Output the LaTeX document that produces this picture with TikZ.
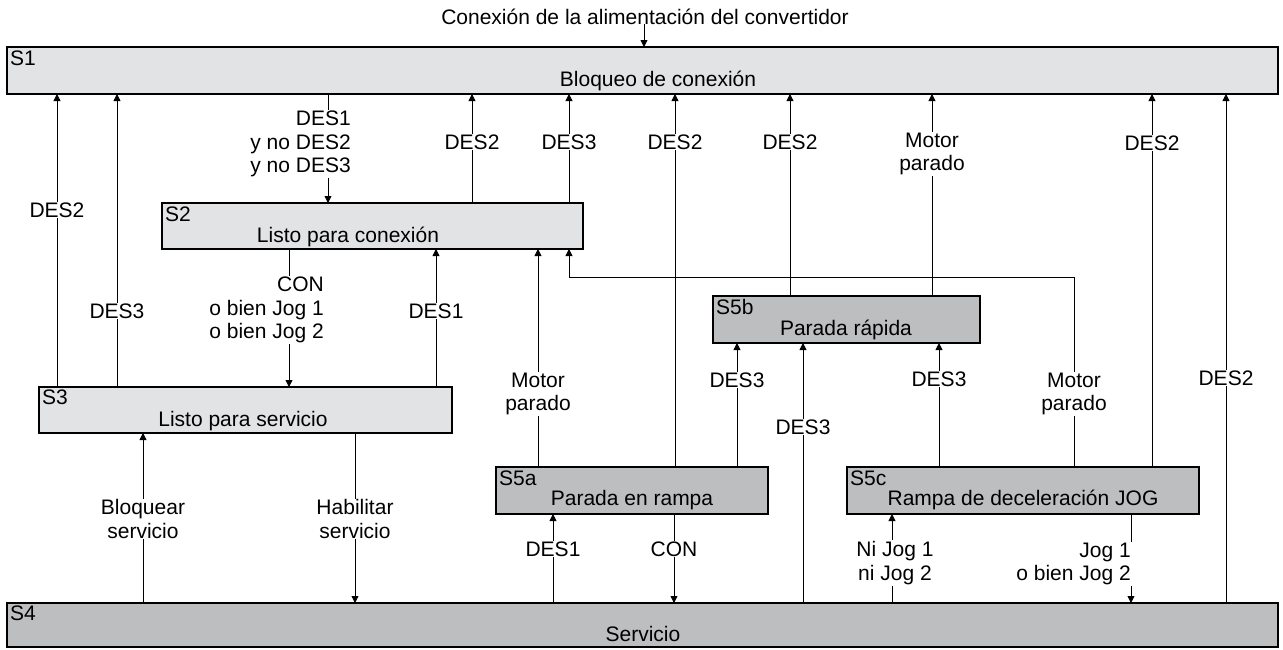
\documentclass[tikz,border=0pt]{standalone}
\usepackage{fontspec}
\setmainfont{Liberation Sans}
\usetikzlibrary{arrows.meta}
\definecolor{lightbox}{HTML}{E2E3E5}
\definecolor{darkbox}{HTML}{BCBEC0}
\tikzset{
  every node/.style={font=\fontsize{21}{23.5}\selectfont},
  statebox/.style={draw=black, line width=1.8pt, rectangle, inner sep=0pt, outer sep=0pt, anchor=north west},
  light/.style={statebox, fill=lightbox},
  dark/.style={statebox, fill=darkbox},
  tag/.style={anchor=base west, inner sep=0pt},
  title/.style={anchor=base, inner sep=0pt},
  conn/.style={line width=0.8pt, draw=black, -{Triangle[length=7pt,width=7pt]}},
  lbl/.style={fill=white, inner sep=1pt, align=center},
  lblr/.style={fill=white, inner sep=1pt, align=right, anchor=east},
}
\begin{document}
\begin{tikzpicture}[x=1pt,y=-1pt]
\useasboundingbox (0,0) rectangle (1283,649);
% boxes
\node[light, minimum width=1271pt, minimum height=47pt] (S1) at (7,47) {};
\node[light, minimum width=421pt, minimum height=46pt] (S2) at (162,203) {};
\node[light, minimum width=413pt, minimum height=46pt] (S3) at (39,387) {};
\node[dark, minimum width=1271pt, minimum height=44pt] (S4) at (7,603) {};
\node[dark, minimum width=272pt, minimum height=47pt] (S5a) at (496,467) {};
\node[dark, minimum width=267pt, minimum height=47pt] (S5b) at (713,296) {};
\node[dark, minimum width=352pt, minimum height=47pt] (S5c) at (847,467) {};
% box texts
\node[tag] (tS1) at (10,65) {S1};
\node[title] (mS1) at (658,86) {Bloqueo de conexión};
\node[tag] (tS2) at (165,221) {S2};
\node[title] (mS2) at (348,242) {Listo para conexión};
\node[tag] (tS3) at (42,404) {S3};
\node[title] (mS3) at (243,426) {Listo para servicio};
\node[tag] (tS4) at (10,620) {S4};
\node[title] (mS4) at (643,641) {Servicio};
\node[tag] (tS5a) at (499,485) {S5a};
\node[title] (mS5a) at (632,505) {Parada en rampa};
\node[tag] (tS5b) at (716,314) {S5b};
\node[title] (mS5b) at (846,335) {Parada rápida};
\node[tag] (tS5c) at (850,485) {S5c};
\node[title] (mS5c) at (1023,505) {Rampa de deceleración JOG};
% top
\node[title] (top) at (645,24) {Conexión de la alimentación del convertidor};
\draw[conn] (top.south -| 644,0) -- (S1.north -| 644,0);
% connectors
\draw[conn] (S3.north -| 57,0) -- (S1.south -| 57,0);
\draw[conn] (S3.north -| 117,0) -- (S1.south -| 117,0);
\draw[conn] (S1.south -| 328,0) -- (S2.north -| 328,0);
\draw[conn] (S2.north -| 472,0) -- (S1.south -| 472,0);
\draw[conn] (S2.north -| 569,0) -- (S1.south -| 569,0);
\draw[conn] (S2.south -| 289,0) -- (S3.north -| 289,0);
\draw[conn] (S3.north -| 436,0) -- (S2.south -| 436,0);
\draw[conn] (S5a.north -| 538,0) -- (S2.south -| 538,0);
\draw[conn] (S5c.north -| 1074,0) |- (569,277) -- (S2.south -| 569,0);
\draw[conn] (S5a.north -| 675,0) -- (S1.south -| 675,0);
\draw[conn] (S5a.north -| 737,0) -- (S5b.south -| 737,0);
\draw[conn] (S5b.north -| 790,0) -- (S1.south -| 790,0);
\draw[conn] (S5b.north -| 932,0) -- (S1.south -| 932,0);
\draw[conn] (S4.north -| 803,0) -- (S5b.south -| 803,0);
\draw[conn] (S5c.north -| 939,0) -- (S5b.south -| 939,0);
\draw[conn] (S5c.north -| 1152,0) -- (S1.south -| 1152,0);
\draw[conn] (S4.north -| 1226,0) -- (S1.south -| 1226,0);
\draw[conn] (S4.north -| 143,0) -- (S3.south -| 143,0);
\draw[conn] (S3.south -| 355,0) -- (S4.north -| 355,0);
\draw[conn] (S4.north -| 553,0) -- (S5a.south -| 553,0);
\draw[conn] (S5a.south -| 674,0) -- (S4.north -| 674,0);
\draw[conn] (S4.north -| 892,0) -- (S5c.south -| 892,0);
\draw[conn] (S5c.south -| 1131,0) -- (S4.north -| 1131,0);
% labels
\node[lbl] (l1) at (57,210) {DES2};
\node[lbl] (l2) at (117,311) {DES3};
\node[lblr] (l3) at (352,144) {DES1\\y no DES2\\y no DES3};
\node[lbl] (l4) at (472,142) {DES2};
\node[lbl] (l5) at (569,142) {DES3};
\node[lblr] (l6) at (325,310) {CON\\o bien Jog 1\\o bien Jog 2};
\node[lbl] (l7) at (436,311) {DES1};
\node[lbl] (l8) at (538,394) {Motor\\parado};
\node[lbl] (l9) at (1074,394) {Motor\\parado};
\node[lbl] (l10) at (675,142) {DES2};
\node[lbl] (l11) at (737,380) {DES3};
\node[lbl] (l12) at (790,142) {DES2};
\node[lbl] (l13) at (932,154) {Motor\\parado};
\node[lbl] (l14) at (803,427) {DES3};
\node[lbl] (l15) at (939,379) {DES3};
\node[lbl] (l16) at (1152,143) {DES2};
\node[lbl] (l17) at (1226,378) {DES2};
\node[lbl] (l18) at (143,519) {Bloquear\\servicio};
\node[lbl] (l19) at (355,519) {Habilitar\\servicio};
\node[lbl] (l20) at (553,549) {DES1};
\node[lbl] (l21) at (674,549) {CON};
\node[lbl] (l22) at (895,563) {Ni Jog 1\\ni Jog 2};
\node[lblr] (l23) at (1132,564) {Jog 1\\o bien Jog 2};
\end{tikzpicture}
\end{document}
